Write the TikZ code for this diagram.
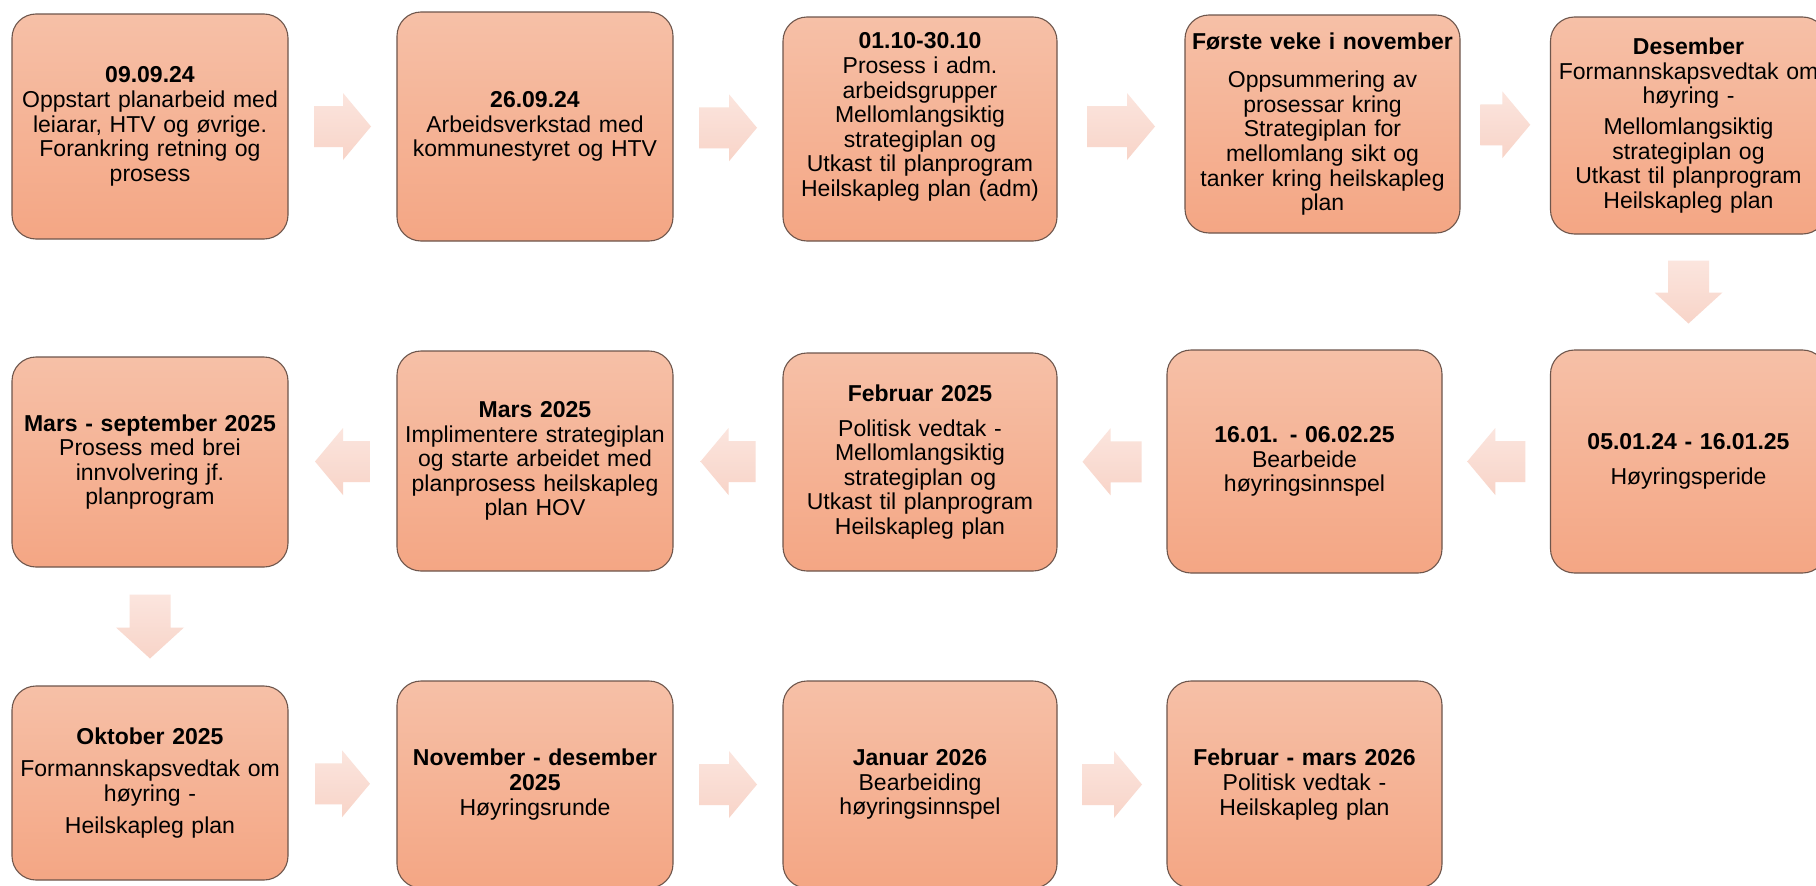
\documentclass[tikz,border=0pt]{standalone}
\usepackage{fontspec}
\setmainfont{Liberation Sans}
\usetikzlibrary{calc}
\definecolor{boxtop}{RGB}{246,192,167}
\definecolor{boxbot}{RGB}{244,166,132}
\definecolor{boxline}{RGB}{110,86,76}
\definecolor{arrtop}{RGB}{251,229,222}
\definecolor{arrbot}{RGB}{248,212,200}
\tikzset{
  box/.style={draw=boxline, line width=1.1pt, rounded corners=24pt,
    top color=boxtop, bottom color=boxbot, align=center, inner sep=0pt,
    text width=272pt, minimum width=276pt, font=\fontsize{23}{24.6}\selectfont},
  arrowshade/.style={top color=arrtop, bottom color=arrbot, draw=none},
  rarr/.pic={\path[arrowshade] ({-#1/2},-20.5) -- ({#1/2-28},-20.5) -- ({#1/2-28},-33.5) -- ({#1/2},0) -- ({#1/2-28},33.5) -- ({#1/2-28},20.5) -- ({-#1/2},20.5) -- cycle;},
  larr/.pic={\path[arrowshade] ({#1/2},-20.5) -- ({-#1/2+28},-20.5) -- ({-#1/2+28},-33.5) -- ({-#1/2},0) -- ({-#1/2+28},33.5) -- ({-#1/2+28},20.5) -- ({#1/2},20.5) -- cycle;},
  darr/.pic={\path[arrowshade] (-20.5,{-#1/2}) -- (20.5,{-#1/2}) -- (20.5,{#1/2-31}) -- (34,{#1/2-31}) -- (0,{#1/2}) -- (-34,{#1/2-31}) -- (-20.5,{#1/2-31}) -- cycle;}
}
\begin{document}
\begin{tikzpicture}[x=1pt,y=-1pt]
\useasboundingbox (0,0) rectangle (1816,886);
\fill[white] (0,0) rectangle (1816,886);
\clip (0,0) rectangle (1816,886);

% row 1
\node[box, minimum height=225pt] (b1) at (150,126.5) {\textbf{09.09.24}\\Oppstart planarbeid med\\leiarar, HTV og øvrige.\\Forankring retning og\\prosess};
\node[box, minimum height=229pt] (b2) at (535,126.5) {\textbf{26.09.24}\\Arbeidsverkstad med\\kommunestyret og HTV};
\node[box, minimum height=224pt, minimum width=274pt] (b3) at (920,129) {\textbf{01.10-30.10}\\Prosess i adm.\\arbeidsgrupper\\Mellomlangsiktig\\strategiplan og\\Utkast til planprogram\\Heilskapleg plan (adm)\\[4pt]\mbox{}};
\node[box, minimum height=218pt, minimum width=275pt] (b4) at (1322.5,124) {\textbf{Første veke i november}\\[14pt]Oppsummering av\\prosessar kring\\Strategiplan for\\mellomlang sikt og\\tanker kring heilskapleg\\plan};
\node[box, minimum height=217pt] (b5) at (1688.5,125.5) {\textbf{Desember}\\Formannskapsvedtak om\\høyring -\\[6pt]Mellomlangsiktig\\strategiplan og\\Utkast til planprogram\\Heilskapleg plan};

% row 2
\node[box, minimum height=210pt] (b6) at (150,462) {\textbf{Mars - september 2025}\\Prosess med brei\\innvolvering jf.\\planprogram};
\node[box, minimum height=220pt] (b7) at (535,461) {\textbf{Mars 2025}\\Implimentere strategiplan\\og starte arbeidet med\\planprosess heilskapleg\\plan HOV};
\node[box, minimum height=218pt, minimum width=274pt] (b8) at (920,462) {\textbf{Februar 2025}\\[10pt]Politisk vedtak -\\Mellomlangsiktig\\strategiplan og\\Utkast til planprogram\\Heilskapleg plan};
\node[box, minimum height=223pt, minimum width=275pt] (b9) at (1304.5,461.5) {\textbf{16.01. - 06.02.25}\\Bearbeide\\høyringsinnspel};
\node[box, minimum height=223pt] (b10) at (1688.5,461.5) {\textbf{05.01.24 - 16.01.25}\hspace*{28pt}\\[10pt]Høyringsperide\hspace*{28pt}};

% row 3
\node[box, minimum height=194pt] (b11) at (150,783) {\textbf{Oktober 2025}\\[8pt]Formannskapsvedtak om\\høyring -\\[8pt]Heilskapleg plan};
\node[box, minimum height=207pt] (b12) at (535,784.5) {\textbf{November - desember}\\\textbf{2025}\\Høyringsrunde};
\node[box, minimum height=207pt, minimum width=274pt] (b13) at (920,784.5) {\textbf{Januar 2026}\\Bearbeiding\\høyringsinnspel};
\node[box, minimum height=207pt, minimum width=275pt] (b14) at (1304.5,784.5) {\textbf{Februar - mars 2026}\\Politisk vedtak -\\Heilskapleg plan};

% connector positions
\coordinate (a1) at ($(b1.east)!0.5!(b2.west)$);
\coordinate (a2) at ($(b2.east)!0.5!(b3.west)$);
\coordinate (a3) at ($(b3.east)!0.5!(b4.west)$);
\coordinate (a4) at ($(b4.east)!0.5!(b5.west)$);
\coordinate (d1) at ($(b5.south)!0.5!(b10.north)$);
\coordinate (a5) at ($(b10.west)!0.5!(b9.east)$);
\coordinate (a6) at ($(b9.west)!0.5!(b8.east)$);
\coordinate (a7) at ($(b8.west)!0.5!(b7.east)$);
\coordinate (a8) at ($(b7.west)!0.5!(b6.east)$);
\coordinate (d2) at ($(b6.south)!0.5!(b11.north)$);
\coordinate (a9) at ($(b11.east)!0.5!(b12.west)$);
\coordinate (a10) at ($(b12.east)!0.5!(b13.west)$);
\coordinate (a11) at ($(b13.east)!0.5!(b14.west)$);

\pic at (a1) {rarr=57};
\pic at (a2) {rarr=58};
\pic at (a3) {rarr=68};
\pic at (a4) {rarr=50};
\pic at (d1) {darr=63};
\pic at (a5) {larr=58};
\pic at (a6) {larr=59};
\pic at (a7) {larr=55};
\pic at (a8) {larr=55};
\pic at (d2) {darr=64};
\pic at (a9) {rarr=55};
\pic at (a10) {rarr=58};
\pic at (a11) {rarr=60};
\end{tikzpicture}
\end{document}
